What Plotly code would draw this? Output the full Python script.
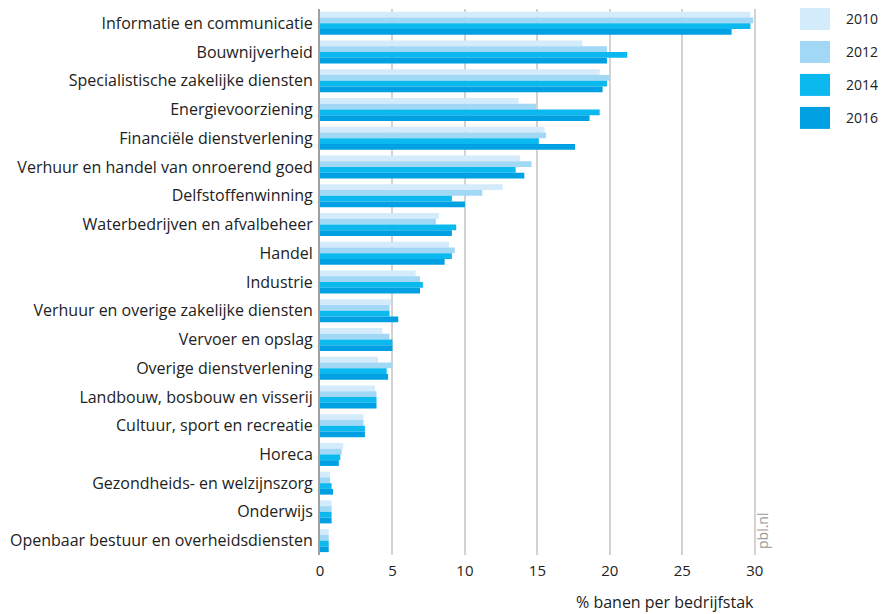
import plotly.graph_objects as go

categories = [
    "Informatie en communicatie",
    "Bouwnijverheid",
    "Specialistische zakelijke diensten",
    "Energievoorziening",
    "Financiële dienstverlening",
    "Verhuur en handel van onroerend goed",
    "Delfstoffenwinning",
    "Waterbedrijven en afvalbeheer",
    "Handel",
    "Industrie",
    "Verhuur en overige zakelijke diensten",
    "Vervoer en opslag",
    "Overige dienstverlening",
    "Landbouw, bosbouw en visserij",
    "Cultuur, sport en recreatie",
    "Horeca",
    "Gezondheids- en welzijnszorg",
    "Onderwijs",
    "Openbaar bestuur en overheidsdiensten",
]

years = ["2010", "2012", "2014", "2016"]

v2010 = [29.7, 18.1, 19.3, 13.7, 15.5, 13.8, 12.6, 8.2, 8.9, 6.6, 4.9, 4.3, 4.0, 3.8, 3.0, 1.6, 0.7, 0.8, 0.6]
v2012 = [29.9, 19.8, 20.0, 14.9, 15.6, 14.6, 11.2, 8.0, 9.3, 6.9, 4.8, 4.8, 5.0, 3.9, 3.0, 1.5, 0.7, 0.8, 0.6]
v2014 = [29.7, 21.2, 19.8, 19.3, 15.1, 13.5, 9.1, 9.4, 9.1, 7.1, 4.8, 5.0, 4.6, 3.9, 3.1, 1.4, 0.8, 0.8, 0.6]
v2016 = [28.4, 19.8, 19.5, 18.6, 17.6, 14.1, 10.0, 9.1, 8.6, 6.9, 5.4, 5.0, 4.7, 3.9, 3.1, 1.3, 0.9, 0.8, 0.6]

series = [v2010, v2012, v2014, v2016]
colors = ["#d4ebfb", "#a1d8f6", "#0cb9ef", "#01a0e2"]

FONT = "Open Sans"

# plot area geometry (pixels)
PL, PR, PT, PB = 320, 762, 9, 555.5
W, H = 883, 614


def px(x):
    return (x - PL) / (PR - PL)


def py(y):
    return 1 - (y - PT) / (PB - PT)


fig = go.Figure()
for yr, vals, col in zip(years, series, colors):
    fig.add_trace(go.Bar(
        y=categories, x=vals, name=yr, orientation="h",
        marker=dict(color=col, line=dict(width=0)),
        showlegend=False,
    ))

# custom legend (large swatches)
for i, (yr, col) in enumerate(zip(years, colors)):
    y0 = 8 + i * 33
    fig.add_shape(type="rect", xref="paper", yref="paper",
                  x0=px(800), x1=px(830), y0=py(y0 + 22), y1=py(y0),
                  fillcolor=col, line=dict(width=0))
    fig.add_annotation(xref="paper", yref="paper",
                       x=px(844), y=py(y0 + 11),
                       text=yr, showarrow=False, xanchor="left", yanchor="middle",
                       font=dict(family=FONT, size=14, color="#222"))

fig.add_annotation(xref="paper", yref="paper",
                   x=px(774), y=py(552),
                   text="pbl.nl", textangle=-90, showarrow=False,
                   font=dict(family=FONT, size=14, color="#999"))

fig.add_annotation(xref="x", yref="paper",
                   x=30.1, y=py(603), xanchor="right", yanchor="middle",
                   text="% banen per bedrijfstak", showarrow=False,
                   font=dict(family=FONT, size=16, color="#222"))

fig.update_layout(
    barmode="group",
    bargap=0.2,
    bargroupgap=0,
    width=W, height=H,
    margin=dict(l=PL, r=W - PR, t=PT, b=H - PB, autoexpand=False),
    paper_bgcolor="white", plot_bgcolor="white",
    font=dict(family=FONT, color="#222"),
    xaxis=dict(
        range=[0, 30.5], tickvals=[0, 5, 10, 15, 20, 25, 30],
        showgrid=True, gridcolor="#d3d3d3", gridwidth=2,
        zeroline=False, showline=False, ticks="",
        tickfont=dict(size=15, color="#222"), ticklabelstandoff=5,
        fixedrange=True,
    ),
    yaxis=dict(
        autorange="reversed", ticks="", showgrid=False,
        showline=True, linecolor="#a0a0a0", linewidth=2,
        tickfont=dict(size=16, color="#222"), ticklabelstandoff=2,
        automargin=False, fixedrange=True,
    ),
)

fig.write_html("out.html", config={"displayModeBar": False})

with open("out.html", "r", encoding="utf-8") as f:
    html = f.read()
html = html.replace("<head>", "<head><style>html,body{margin:0;padding:0;}</style>", 1)
with open("out.html", "w", encoding="utf-8") as f:
    f.write(html)
